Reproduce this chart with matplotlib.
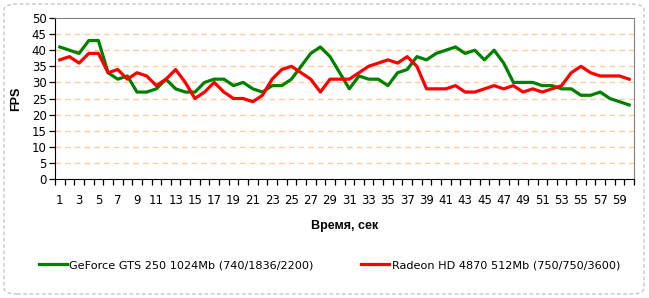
import matplotlib
matplotlib.use('Agg')
import matplotlib.pyplot as plt
from matplotlib.patches import FancyBboxPatch
import numpy as np

seconds = list(range(1, 61))

geforce = [41, 40, 39, 43, 43, 33, 31, 32, 27, 27, 28, 31, 28, 27, 27, 30,
           31, 31, 29, 30, 28, 27, 29, 29, 31, 35, 39, 41, 38, 33, 28, 32,
           31, 31, 29, 33, 34, 38, 37, 39, 40, 41, 39, 40, 37, 40, 36, 30,
           30, 30, 29, 29, 28, 28, 26, 26, 27, 25, 24, 23]
radeon = [37, 38, 36, 39, 39, 33, 34, 31, 33, 32, 29, 31, 34, 30, 25, 27,
          30, 27, 25, 25, 24, 26, 31, 34, 35, 33, 31, 27, 31, 31, 31, 33,
          35, 36, 37, 36, 38, 35, 28, 28, 28, 29, 27, 27, 28, 29, 28, 29,
          27, 28, 27, 28, 29, 33, 35, 33, 32, 32, 32, 31]

labels = ['GeForce GTS 250 1024Mb (740/1836/2200)',
          'Radeon HD 4870 512Mb (750/750/3600)']
y_ticks = list(range(0, 51, 5))

fig = plt.figure(figsize=(6.49, 2.98), dpi=100)

# dashed rounded frame around the whole chart
frame = FancyBboxPatch((4 / 649, 4 / 298), 640 / 649, 290 / 298,
                       boxstyle='round,pad=0,rounding_size=0.02',
                       transform=fig.transFigure, fill=False,
                       edgecolor='#c0c0c0', linestyle=(0, (3, 2)), lw=0.9)
fig.patches.append(frame)

ax = fig.add_axes([55 / 649, 1 - 179 / 298, 579 / 649, 161 / 298])

l1, = ax.plot(seconds, geforce, color='#008000', lw=2.3, solid_joinstyle='round')
l2, = ax.plot(seconds, radeon, color='#ff0000', lw=2.3, solid_joinstyle='round')

ax.set_xlim(0.5, 60.5)
ax.set_ylim(0, 50)

for y in y_ticks[1:-1]:
    ax.axhline(y, color='#ffcc99', lw=1, linestyle=(0, (4, 3)), zorder=0)

ax.set_yticks(y_ticks)
ax.set_xticks(seconds[::2])
ax.set_xticks(np.arange(0.5, 61, 1), minor=True)
ax.tick_params(axis='y', direction='out', length=4, width=0.9, pad=2, labelsize=8.5)
ax.tick_params(axis='x', which='major', length=0, pad=11, labelsize=8.5)
ax.tick_params(axis='x', which='minor', direction='out', length=4, width=0.9)

for s in ['top', 'right']:
    ax.spines[s].set_color('#808080')
ax.spines['left'].set_color('black')
ax.spines['bottom'].set_color('black')

ax.set_ylabel('FPS', fontsize=9, fontweight='bold', family='Liberation Sans', labelpad=7)
ax.set_xlabel('Время, сек', fontsize=9, fontweight='bold', family='Liberation Sans', labelpad=9)

fig.legend([l1, l2], labels, loc='center left', bbox_to_anchor=(34 / 649, 1 - 265 / 298),
           ncol=2, frameon=False, fontsize=8.1, handlelength=2.5, handletextpad=0.25,
           columnspacing=4.2, borderaxespad=0)

fig.savefig('out.png', dpi=100)
